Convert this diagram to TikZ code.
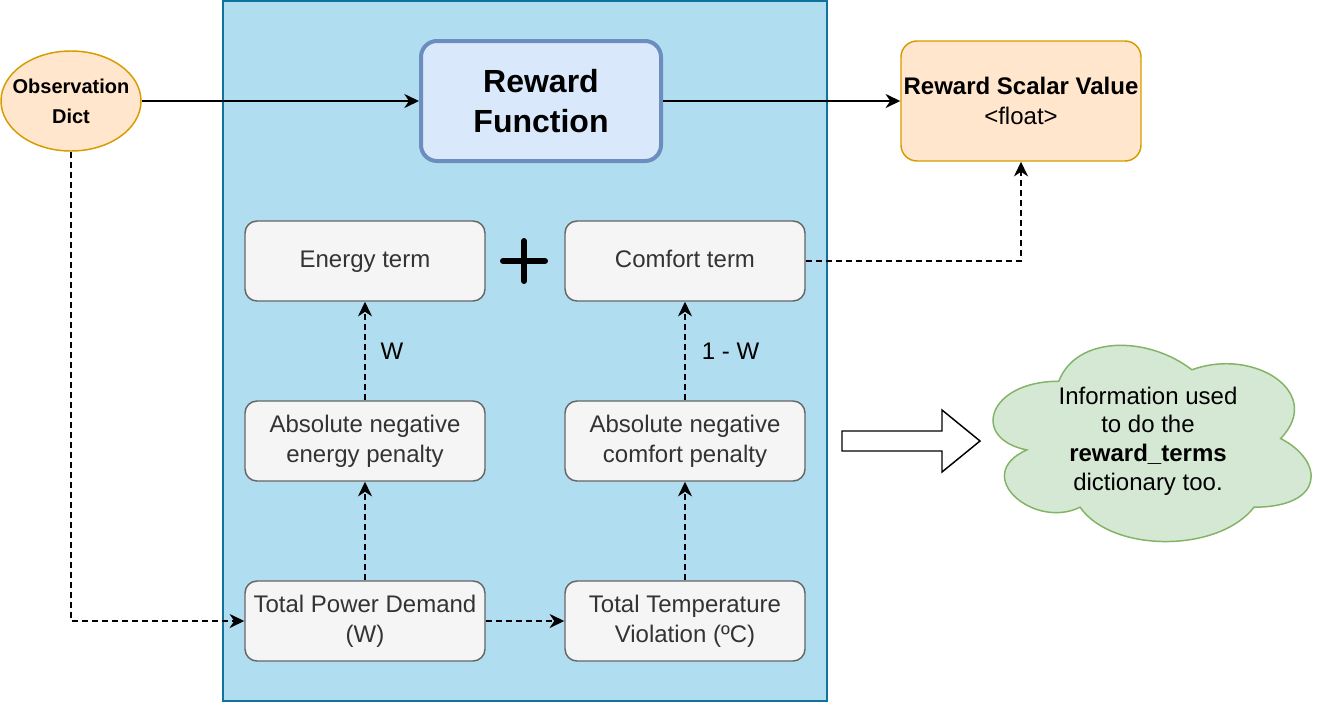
\documentclass[tikz,border=0pt]{standalone}
\usepackage{fontspec}
\setmainfont{Liberation Sans}
\usepackage{xcolor}
\usepackage{tikz}
\usetikzlibrary{positioning, arrows.meta, shapes.geometric}
\definecolor{pnFill}{HTML}{B1DDF0}
\definecolor{pnLine}{HTML}{10739E}
\definecolor{fnFill}{HTML}{DAE8FC}
\definecolor{fnLine}{HTML}{6C8EBF}
\definecolor{orFill}{HTML}{FFE6CC}
\definecolor{orLine}{HTML}{D79B00}
\definecolor{tmFill}{HTML}{F5F5F5}
\definecolor{tmLine}{HTML}{666666}
\definecolor{tmInk}{HTML}{333333}
\definecolor{clFill}{HTML}{D5E8D4}
\definecolor{clLine}{HTML}{82B366}
\tikzset{
  termbox/.style={draw=tmLine, fill=tmFill, text=tmInk, line width=1.1pt, rounded corners=9pt,
    minimum width=180pt, minimum height=60pt, inner sep=0pt, align=center,
    font=\fontsize{18}{22.5}\selectfont},
  funcbox/.style={draw=fnLine, fill=fnFill, line width=3pt, rounded corners=12pt,
    minimum width=180pt, minimum height=90pt, inner sep=0pt, align=center,
    font=\fontsize{24}{29.5}\selectfont\bfseries},
  scalarbox/.style={draw=orLine, fill=orFill, line width=1.1pt, rounded corners=12pt,
    minimum width=180pt, minimum height=90pt, inner sep=0pt, align=center,
    font=\fontsize{18}{22.5}\selectfont},
  obsnode/.style={ellipse, draw=orLine, fill=orFill, line width=1.1pt,
    minimum width=105pt, minimum height=75pt, inner sep=0pt},
  obstext/.style={align=center, inner sep=0pt, font=\fontsize{15}{22.5}\selectfont\bfseries},
  weightlbl/.style={font=\fontsize{18}{22}\selectfont, inner sep=0pt},
  flow/.style={-{Stealth[length=11pt, width=10.5pt, inset=3.5pt]}, line width=1.4pt},
  dflow/.style={flow, dash pattern=on 4.5pt off 3pt},
}
\begin{document}
\begin{tikzpicture}[x=0.75pt, y=-0.75pt]
  \useasboundingbox (0,0) rectangle (1322,704);
  % container panel
  \draw[draw=pnLine, fill=pnFill, line width=1.1pt] (223,1) rectangle (827,701);

  \node[obsnode] (obs) at (71,101) {};
  \node[obstext] (obslbl) at (obs.center) {Observation\\Dict};
  \node[funcbox] (func) at (541,101) {Reward\\Function};
  \node[scalarbox] (scalar) at (1021,101) {\textbf{Reward Scalar Value}\\<float>};

  \node[termbox] (energy) at (365,261) {\strut Energy term};
  \node[termbox] (comfort) at (685,261) {\strut Comfort term};
  \node[termbox] (epen) at (365,441) {Absolute negative\\energy penalty};
  \node[termbox] (cpen) at (685,441) {Absolute negative\\comfort penalty};
  \node[termbox] (power) at (365,621) {Total Power Demand\\(W)};
  \node[termbox] (temp) at (685,621) {Total Temperature\\Violation (ºC)};

  % plus sign
  \draw[line width=4.5pt, line cap=round] (503,261) -- (545,261) (524,241) -- (524,281);

  \draw[flow] (obs) -- (func);
  \draw[flow] (func) -- (scalar);
  \draw[dflow] (obs.south) |- (power.west);
  \draw[dflow] (power) -- (temp);
  \draw[dflow] (power) -- (epen);
  \draw[dflow] (temp) -- (cpen);
  \draw[dflow] (epen) -- node[weightlbl, right=11pt] (wlbl) {W} (energy);
  \draw[dflow] (cpen) -- node[weightlbl, right=12pt] (wclbl) {1 - W} (comfort);
  \draw[dflow] (comfort.east) -| (scalar.south);

  % block arrow
  \draw[line width=1.1pt, fill=white] (842,431) -- (942,431) -- (942,410) -- (980,441)
    -- (942,472) -- (942,451) -- (842,451) -- cycle;

  % cloud
  \begin{scope}[shift={(970,324)}, x=266.25pt, y=-171.75pt]
    \draw[draw=clLine, fill=clFill, line width=1.1pt]
      (0.25,0.25) .. controls (0.05,0.25) and (0,0.5) .. (0.16,0.55)
      .. controls (0,0.66) and (0.18,0.9) .. (0.31,0.8)
      .. controls (0.4,1) and (0.7,1) .. (0.8,0.8)
      .. controls (1,0.8) and (1,0.6) .. (0.875,0.5)
      .. controls (1,0.3) and (0.8,0.1) .. (0.625,0.2)
      .. controls (0.5,0.05) and (0.3,0.05) .. (0.25,0.25) -- cycle;
  \end{scope}
  \node[align=center, inner sep=0pt, font=\fontsize{18}{21.5}\selectfont] (info) at (1148,441)
    {Information used\\to do the\\\textbf{reward\_terms}\\dictionary too.};
\end{tikzpicture}
\end{document}
